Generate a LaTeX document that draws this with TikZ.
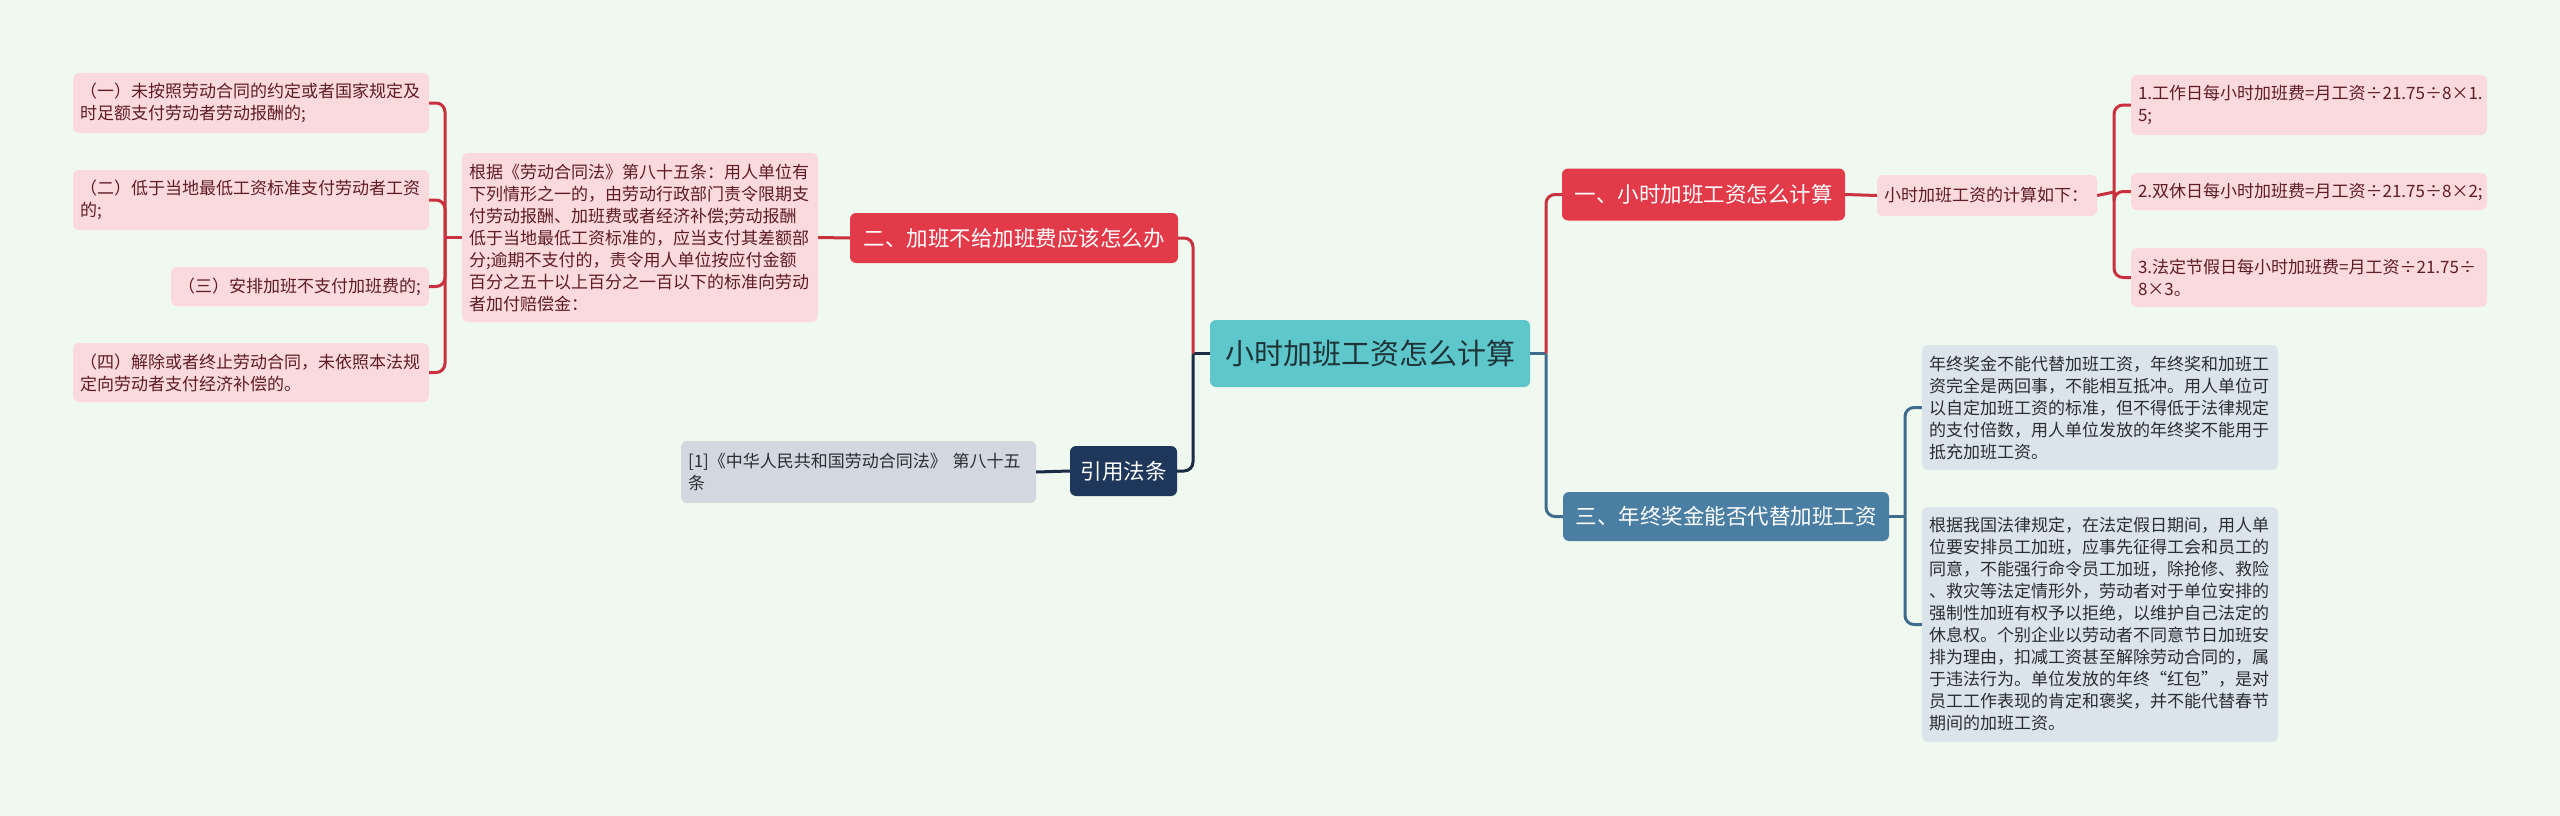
\documentclass[tikz,border=0pt]{standalone}
\usepackage{fontspec}
\setmainfont{Noto Sans CJK SC}
\usepackage{tikz}

\definecolor{bgcol}{HTML}{F0F9EF}
\definecolor{rootfill}{HTML}{5EC7CC}
\definecolor{roottext}{HTML}{1E3437}
\definecolor{redfill}{HTML}{E23A49}
\definecolor{redline}{HTML}{C9313F}
\definecolor{pinkfill}{HTML}{FBDADE}
\definecolor{pinktext}{HTML}{5E1C24}
\definecolor{navyfill}{HTML}{1F375A}
\definecolor{navyline}{HTML}{1A2C46}
\definecolor{greyfill}{HTML}{D3D7DF}
\definecolor{bluefill}{HTML}{4A7EA2}
\definecolor{blueline}{HTML}{3F6C8D}
\definecolor{bluepale}{HTML}{DCE4EB}
\definecolor{darktext}{HTML}{2A2E33}

\begin{document}
\begin{tikzpicture}[x=1pt,y=-1pt,
  box/.style={rounded corners=6pt, inner xsep=7pt, inner ysep=0pt},
  leaf/.style={box, align=left, font=\fontsize{17}{22}\selectfont},
  pinkleaf/.style={leaf, fill=pinkfill, text=pinktext, text width=#1},
  greyleaf/.style={leaf, fill=greyfill, text=darktext, text width=#1},
  blueleaf/.style={leaf, fill=bluepale, text=darktext, text width=#1},
  mainbox/.style={box, text=white, font=\fontsize{21.5}{26}\selectfont},
  conn/.style={line width=3pt, rounded corners=9pt}]

\fill[bgcol] (0,0) rectangle (2560,816);
\useasboundingbox (0,0) rectangle (2560,816);

\node[box, fill=rootfill, text=roottext, font=\fontsize{29}{34}\selectfont,
  minimum width=320, minimum height=67] (root) at (1370,353.5) {小时加班工资怎么计算};

% left side
\node[mainbox, fill=redfill, minimum width=328, minimum height=50] (sec2) at (1014,238) {二、加班不给加班费应该怎么办};
\node[mainbox, fill=navyfill, minimum width=107, minimum height=50] (cite) at (1123.5,471) {引用法条};

\node[pinkleaf=342, minimum height=169] (law) at (640,237.5) {根据《劳动合同法》第八十五条：用人单位有\\下列情形之一的，由劳动行政部门责令限期支\\付劳动报酬、加班费或者经济补偿;劳动报酬\\低于当地最低工资标准的，应当支付其差额部\\分;逾期不支付的，责令用人单位按应付金额\\百分之五十以上百分之一百以下的标准向劳动\\者加付赔偿金：};

\node[pinkleaf=342, minimum height=60] (L1) at (251,103) {（一）未按照劳动合同的约定或者国家规定及\\时足额支付劳动者劳动报酬的;};
\node[pinkleaf=342, minimum height=60] (L2) at (251,200) {（二）低于当地最低工资标准支付劳动者工资\\的;};
\node[pinkleaf=244, minimum height=39] (L3) at (300,286.5) {（三）安排加班不支付加班费的;};
\node[pinkleaf=342, minimum height=59] (L4) at (251,372.5) {（四）解除或者终止劳动合同，未依照本法规\\定向劳动者支付经济补偿的。};

\node[greyleaf=341, minimum height=62] (ref) at (858.5,472) {[1]《中华人民共和国劳动合同法》 第八十五\\条};

% right side
\node[mainbox, fill=redfill, minimum width=283, minimum height=52] (sec1) at (1703.5,194.5) {一、小时加班工资怎么计算};
\node[mainbox, fill=bluefill, minimum width=326, minimum height=49] (sec3) at (1726,516.5) {三、年终奖金能否代替加班工资};

\node[pinkleaf=206, minimum height=41] (calc) at (1987,195.5) {小时加班工资的计算如下：};

\node[pinkleaf=342, minimum height=60] (R1) at (2309,105) {1.工作日每小时加班费=月工资÷21.75÷8×1.\\5;};
\node[pinkleaf=342, minimum height=37] (R2) at (2309,191.5) {2.双休日每小时加班费=月工资÷21.75÷8×2;};
\node[pinkleaf=342, minimum height=59] (R3) at (2309,277.5) {3.法定节假日每小时加班费=月工资÷21.75÷\\8×3。};

\node[blueleaf=342, minimum height=125] (B1) at (2100,407.5) {年终奖金不能代替加班工资，年终奖和加班工\\资完全是两回事，不能相互抵冲。用人单位可\\以自定加班工资的标准，但不得低于法律规定\\的支付倍数，用人单位发放的年终奖不能用于\\抵充加班工资。};
\node[blueleaf=342, minimum height=235] (B2) at (2100,624.5) {根据我国法律规定，在法定假日期间，用人单\\位要安排员工加班，应事先征得工会和员工的\\同意，不能强行命令员工加班，除抢修、救险\\、救灾等法定情形外，劳动者对于单位安排的\\强制性加班有权予以拒绝，以维护自己法定的\\休息权。个别企业以劳动者不同意节日加班安\\排为理由，扣减工资甚至解除劳动合同的，属\\于违法行为。单位发放的年终“红包”，是对\\员工工作表现的肯定和褒奖，并不能代替春节\\期间的加班工资。};

% stems
\coordinate (stemC) at (1193,353.5);
\coordinate (stemD) at (1546,353.5);
\coordinate (stemL) at (445,237.5);
\coordinate (stemR) at (2114,192);
\coordinate (stemB) at (1905,516.5);

\draw[conn, navyline] (root.west) -- (stemC);
\draw[conn, redline] (sec2.east) -| (stemC);
\draw[conn, navyline] (cite.east) -| (stemC);
\draw[conn, blueline] (root.east) -- (stemD);
\draw[conn, redline] (sec1.west) -| (stemD);
\draw[conn, blueline] (sec3.west) -| (stemD);

\draw[conn, redline] (sec2.west) -- (law.east);
\draw[conn, redline] (law.west) -- (stemL);
\foreach \n in {L1,L2,L3,L4}
  \draw[conn, redline] (\n.east) -| (stemL);
\draw[conn, navyline] (cite.west) -- (ref.east);

\draw[conn, redline] (sec1.east) -- (calc.west);
\draw[conn, redline] (calc.east) -- (stemR);
\foreach \n in {R1,R2,R3}
  \draw[conn, redline] (\n.west) -| (stemR);
\draw[conn, blueline] (sec3.east) -- (stemB);
\foreach \n in {B1,B2}
  \draw[conn, blueline] (\n.west) -| (stemB);

\end{tikzpicture}
\end{document}
